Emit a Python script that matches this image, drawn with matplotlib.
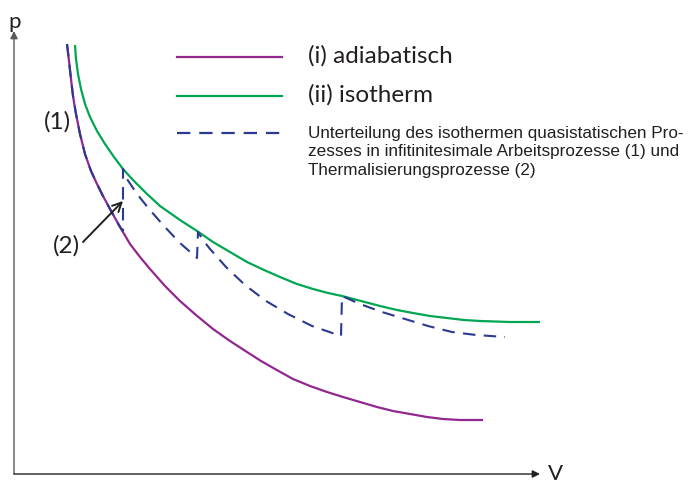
import matplotlib
matplotlib.use("Agg")
from matplotlib import pyplot as plt
from matplotlib.lines import Line2D

# adiabatische Kurve (i)
v_adiabat = [53, 55, 57, 59, 62, 66, 71, 77, 83, 89, 96, 106, 116, 126, 136, 151, 166,
             182, 199, 216, 233, 247, 261, 279, 296, 313, 329, 346, 363, 379, 396,
             413, 429, 446, 469]
p_adiabat = [430, 413, 395, 378, 360, 340, 320, 303, 290, 278, 265, 247, 230, 217, 205,
             188, 173, 159, 145, 133, 122, 113, 105, 95, 88, 82, 77, 72, 67, 63, 60,
             57, 55, 54, 54]

# isotherme Kurve (ii)
v_isotherm = [61, 62, 64, 67, 71, 76, 83, 91, 100, 109, 119, 132, 146, 166, 183, 199,
              216, 233, 250, 266, 283, 299, 314, 328, 347, 366, 383, 399, 416, 433,
              450, 466, 496, 526]
p_isotherm = [429, 415, 400, 385, 370, 357, 343, 330, 317, 305, 294, 281, 268, 254, 243,
              232, 222, 212, 204, 197, 190, 185, 181, 178, 173, 168, 164, 161, 158,
              156, 154, 153, 152, 152]

# Unterteilung in Arbeitsprozesse (1) und Thermalisierungsprozesse (2)
v_stufen = [53, 55, 57, 59, 62, 66, 71, 77, 83, 89, 96, 106, 109, 109,
            113, 119, 127, 136, 149, 166, 183, 184,
            189, 196, 212, 231, 252, 274, 298, 327, 328,
            346, 368, 391, 414, 438, 462, 491]
p_stufen = [430, 413, 395, 378, 360, 340, 320, 303, 290, 278, 265, 247, 243, 305,
            295, 286, 275, 264, 249, 231, 216, 242,
            234, 225, 207, 189, 173, 160, 148, 138, 178,
            170, 162, 155, 148, 142, 139, 137]

legend_labels = ["(i) adiabatisch", "(ii) isotherm",
                 "Unterteilung des isothermen quasistatischen Pro-\n"
                 "zesses in infitinitesimale Arbeitsprozesse (1) und\n"
                 "Thermalisierungsprozesse (2)"]

purple = "#92278F"
green = "#00A651"
blue = "#2B3990"
dark = "#231F20"
font_big = ["Lato", "DejaVu Sans"]
font_small = ["Liberation Sans", "DejaVu Sans"]

fig = plt.figure(figsize=(6.89, 4.85), dpi=100)
ax = fig.add_axes([0, 0, 1, 1])
ax.set_xlim(-14, 675)
ax.set_ylim(-10, 475)
ax.axis("off")

ax.plot(v_adiabat, p_adiabat, color=purple, lw=1.6, solid_capstyle="butt")
ax.plot(v_isotherm, p_isotherm, color=green, lw=1.6, solid_capstyle="butt")
ax.plot(v_stufen, p_stufen, color=blue, lw=1.5, dashes=(6, 4))

# Achsen mit Pfeilen
ax.annotate("", xy=(0, 443), xytext=(0, 0),
            arrowprops=dict(arrowstyle="-|>", mutation_scale=11, lw=1,
                            color="#58595B", shrinkA=0, shrinkB=0))
ax.annotate("", xy=(526, 0), xytext=(0, 0),
            arrowprops=dict(arrowstyle="-|>", mutation_scale=11, lw=1,
                            color=dark, shrinkA=0, shrinkB=0))
ax.text(1, 447, "p", fontsize=16, family=font_big, color=dark,
        ha="center", va="baseline")
ax.text(534, -5, "V", fontsize=16, family=font_big, color=dark,
        ha="left", va="baseline")

ax.text(43, 353, "(1)", fontsize=17.5, family=font_big, color=dark,
        ha="center", va="center")
ax.text(52, 229, "(2)", fontsize=17.5, family=font_big, color=dark,
        ha="center", va="center")
ax.annotate("", xy=(109, 273), xytext=(69, 232),
            arrowprops=dict(arrowstyle="->", mutation_scale=16, lw=1.4,
                            color=dark, shrinkA=0, shrinkB=0))

# Legende
leg_y = [0.880, 0.800, 0.724]
leg_styles = [dict(color=purple), dict(color=green), dict(color=blue, dashes=(6, 4))]
for y, style in zip(leg_y, leg_styles):
    fig.add_artist(Line2D([0.257, 0.409], [y, y], lw=1.6,
                          transform=fig.transFigure, **style))
fig.text(0.447, 0.8845, legend_labels[0], fontsize=17.5, family=font_big,
         color=dark, va="center")
fig.text(0.447, 0.804, legend_labels[1], fontsize=17.5, family=font_big,
         color=dark, va="center")
fig.text(0.447, 0.6866, legend_labels[2], fontsize=12.3, family=font_small,
         color=dark, va="center", linespacing=1.3)

fig.savefig("out.png", dpi=100)
